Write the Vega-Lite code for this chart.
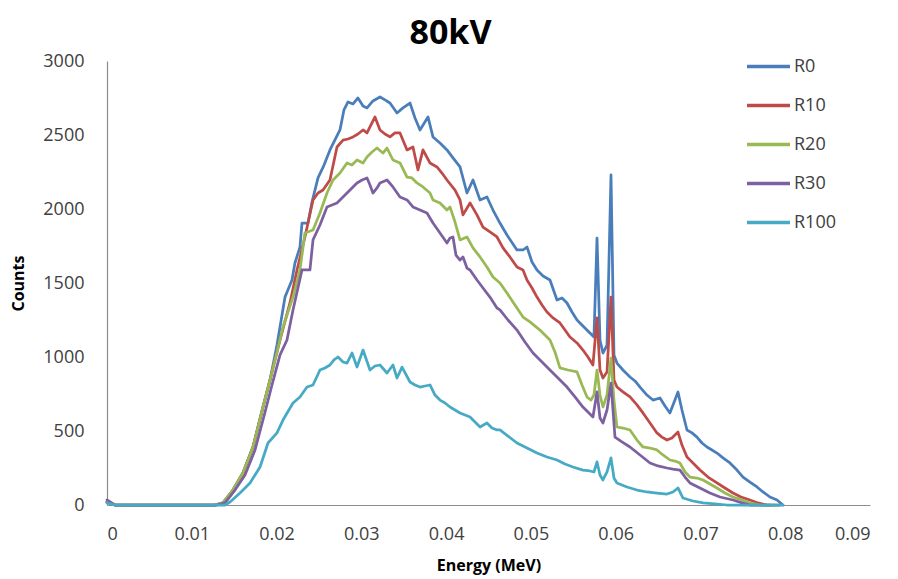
{
  "$schema": "https://vega.github.io/schema/vega-lite/v6.json",
  "width": 763,
  "height": 444,
  "autosize": {"type": "none"},
  "padding": {"left": 107, "top": 61, "right": 28, "bottom": 74},
  "background": "white",
  "title": {"text": "80kV", "font": "Open Sans", "fontSize": 34, "fontWeight": "bold", "color": "#000000", "frame": "group", "anchor": "middle", "dx": -38, "baseline": "alphabetic", "offset": 17, "dy": 52},
  "config": {
    "view": {"stroke": null},
    "axis": {"grid": false, "ticks": false, "tickSize": 0, "domainColor": "#8c8c8c", "domainWidth": 1.2, "labelFont": "Open Sans", "labelFontSize": 18, "labelColor": "#404040", "titleFont": "Open Sans", "titleFontSize": 16, "titleFontWeight": "bold", "titleColor": "#000000"},
    "legend": {"labelFont": "Open Sans", "labelFontSize": 18, "labelColor": "#404040"}
  },
  "data": {"values": [
    {"series":"R0","energy":0,"counts":20},{"series":"R0","energy":0.00094,"counts":0},{"series":"R0","energy":0.01274,"counts":0},{"series":"R0","energy":0.01368,"counts":14},{"series":"R0","energy":0.01486,"counts":101},{"series":"R0","energy":0.01604,"counts":216},{"series":"R0","energy":0.01722,"counts":392},{"series":"R0","energy":0.0184,"counts":662},{"series":"R0","energy":0.01923,"counts":845},{"series":"R0","energy":0.02005,"counts":1081},{"series":"R0","energy":0.021,"counts":1405},{"series":"R0","energy":0.02182,"counts":1520},{"series":"R0","energy":0.02217,"counts":1635},{"series":"R0","energy":0.02276,"counts":1743},{"series":"R0","energy":0.023,"counts":1905},{"series":"R0","energy":0.02371,"counts":1905},{"series":"R0","energy":0.02418,"counts":2047},{"series":"R0","energy":0.02489,"counts":2210},{"series":"R0","energy":0.0256,"counts":2297},{"series":"R0","energy":0.0263,"counts":2399},{"series":"R0","energy":0.02748,"counts":2534},{"series":"R0","energy":0.02795,"counts":2669},{"series":"R0","energy":0.02843,"counts":2723},{"series":"R0","energy":0.02902,"counts":2710},{"series":"R0","energy":0.0296,"counts":2750},{"series":"R0","energy":0.0302,"counts":2696},{"series":"R0","energy":0.03067,"counts":2683},{"series":"R0","energy":0.03137,"counts":2730},{"series":"R0","energy":0.0322,"counts":2757},{"series":"R0","energy":0.03279,"counts":2737},{"series":"R0","energy":0.03338,"counts":2716},{"series":"R0","energy":0.03421,"counts":2649},{"series":"R0","energy":0.03491,"counts":2683},{"series":"R0","energy":0.03574,"counts":2716},{"series":"R0","energy":0.03633,"counts":2615},{"series":"R0","energy":0.03692,"counts":2534},{"series":"R0","energy":0.03786,"counts":2622},{"series":"R0","energy":0.03845,"counts":2487},{"series":"R0","energy":0.03928,"counts":2446},{"series":"R0","energy":0.0401,"counts":2399},{"series":"R0","energy":0.04081,"counts":2345},{"series":"R0","energy":0.04164,"counts":2284},{"series":"R0","energy":0.04246,"counts":2108},{"series":"R0","energy":0.04317,"counts":2196},{"series":"R0","energy":0.044,"counts":2061},{"series":"R0","energy":0.04482,"counts":2081},{"series":"R0","energy":0.04553,"counts":1993},{"series":"R0","energy":0.04635,"counts":1905},{"series":"R0","energy":0.04718,"counts":1824},{"series":"R0","energy":0.04836,"counts":1723},{"series":"R0","energy":0.04907,"counts":1723},{"series":"R0","energy":0.04954,"counts":1743},{"series":"R0","energy":0.05013,"counts":1642},{"series":"R0","energy":0.05072,"counts":1588},{"series":"R0","energy":0.05143,"counts":1547},{"series":"R0","energy":0.05225,"counts":1520},{"series":"R0","energy":0.05308,"counts":1385},{"series":"R0","energy":0.05367,"counts":1399},{"series":"R0","energy":0.05426,"counts":1365},{"series":"R0","energy":0.05485,"counts":1304},{"series":"R0","energy":0.05544,"counts":1250},{"series":"R0","energy":0.05614,"counts":1210},{"series":"R0","energy":0.05697,"counts":1162},{"series":"R0","energy":0.05744,"counts":1135},{"series":"R0","energy":0.0578,"counts":1804},{"series":"R0","energy":0.05815,"counts":1115},{"series":"R0","energy":0.0585,"counts":1027},{"series":"R0","energy":0.05898,"counts":1081},{"series":"R0","energy":0.05945,"counts":2230},{"series":"R0","energy":0.0598,"counts":1014},{"series":"R0","energy":0.06015,"counts":959},{"series":"R0","energy":0.06086,"counts":912},{"series":"R0","energy":0.06169,"counts":865},{"series":"R0","energy":0.06228,"counts":838},{"series":"R0","energy":0.06287,"counts":797},{"series":"R0","energy":0.06369,"counts":743},{"series":"R0","energy":0.0644,"counts":709},{"series":"R0","energy":0.06523,"counts":723},{"series":"R0","energy":0.06582,"counts":669},{"series":"R0","energy":0.0664,"counts":622},{"series":"R0","energy":0.06699,"counts":709},{"series":"R0","energy":0.06735,"counts":764},{"series":"R0","energy":0.06782,"counts":642},{"series":"R0","energy":0.06841,"counts":507},{"series":"R0","energy":0.069,"counts":487},{"series":"R0","energy":0.06959,"counts":459},{"series":"R0","energy":0.07018,"counts":419},{"series":"R0","energy":0.07077,"counts":392},{"series":"R0","energy":0.07136,"counts":372},{"series":"R0","energy":0.07195,"counts":351},{"series":"R0","energy":0.07266,"counts":318},{"series":"R0","energy":0.07348,"counts":284},{"series":"R0","energy":0.07431,"counts":236},{"series":"R0","energy":0.07502,"counts":189},{"series":"R0","energy":0.07584,"counts":155},{"series":"R0","energy":0.07667,"counts":122},{"series":"R0","energy":0.07738,"counts":88},{"series":"R0","energy":0.0782,"counts":54},{"series":"R0","energy":0.07903,"counts":34},{"series":"R0","energy":0.07973,"counts":0},
    {"series":"R10","energy":0,"counts":20},{"series":"R10","energy":0.00094,"counts":0},{"series":"R10","energy":0.01274,"counts":0},{"series":"R10","energy":0.01368,"counts":14},{"series":"R10","energy":0.01486,"counts":101},{"series":"R10","energy":0.01604,"counts":216},{"series":"R10","energy":0.01722,"counts":392},{"series":"R10","energy":0.0184,"counts":662},{"series":"R10","energy":0.01923,"counts":845},{"series":"R10","energy":0.02041,"counts":1115},{"series":"R10","energy":0.02158,"counts":1365},{"series":"R10","energy":0.02241,"counts":1588},{"series":"R10","energy":0.02335,"counts":1811},{"series":"R10","energy":0.0243,"counts":2061},{"series":"R10","energy":0.02489,"counts":2108},{"series":"R10","energy":0.02548,"counts":2128},{"series":"R10","energy":0.0263,"counts":2196},{"series":"R10","energy":0.02713,"counts":2419},{"series":"R10","energy":0.02784,"counts":2466},{"series":"R10","energy":0.02843,"counts":2473},{"series":"R10","energy":0.02902,"counts":2487},{"series":"R10","energy":0.0296,"counts":2507},{"series":"R10","energy":0.0302,"counts":2534},{"series":"R10","energy":0.03067,"counts":2514},{"series":"R10","energy":0.03114,"counts":2568},{"series":"R10","energy":0.03161,"counts":2622},{"series":"R10","energy":0.0322,"counts":2534},{"series":"R10","energy":0.03279,"counts":2507},{"series":"R10","energy":0.03338,"counts":2487},{"series":"R10","energy":0.03397,"counts":2514},{"series":"R10","energy":0.03456,"counts":2514},{"series":"R10","energy":0.03539,"counts":2399},{"series":"R10","energy":0.03609,"counts":2419},{"series":"R10","energy":0.03668,"counts":2264},{"series":"R10","energy":0.03727,"counts":2399},{"series":"R10","energy":0.0381,"counts":2311},{"series":"R10","energy":0.03892,"counts":2284},{"series":"R10","energy":0.03951,"counts":2243},{"series":"R10","energy":0.0401,"counts":2196},{"series":"R10","energy":0.04105,"counts":2128},{"series":"R10","energy":0.04164,"counts":2061},{"series":"R10","energy":0.04199,"counts":1960},{"series":"R10","energy":0.04282,"counts":2041},{"series":"R10","energy":0.04364,"counts":1960},{"series":"R10","energy":0.04435,"counts":1878},{"series":"R10","energy":0.04517,"counts":1845},{"series":"R10","energy":0.046,"counts":1811},{"series":"R10","energy":0.04671,"counts":1737},{"series":"R10","energy":0.04753,"counts":1676},{"series":"R10","energy":0.04836,"counts":1608},{"series":"R10","energy":0.04907,"counts":1588},{"series":"R10","energy":0.04954,"counts":1520},{"series":"R10","energy":0.05013,"counts":1466},{"series":"R10","energy":0.05072,"counts":1405},{"series":"R10","energy":0.05131,"counts":1351},{"series":"R10","energy":0.0519,"counts":1304},{"series":"R10","energy":0.05261,"counts":1264},{"series":"R10","energy":0.05343,"counts":1230},{"series":"R10","energy":0.05402,"counts":1182},{"series":"R10","energy":0.05461,"counts":1135},{"series":"R10","energy":0.05544,"counts":1095},{"series":"R10","energy":0.05614,"counts":1047},{"series":"R10","energy":0.05673,"counts":1000},{"series":"R10","energy":0.05732,"counts":946},{"series":"R10","energy":0.0578,"counts":1264},{"series":"R10","energy":0.05815,"counts":912},{"series":"R10","energy":0.0585,"counts":858},{"series":"R10","energy":0.05898,"counts":899},{"series":"R10","energy":0.05945,"counts":1405},{"series":"R10","energy":0.0598,"counts":845},{"series":"R10","energy":0.06015,"counts":797},{"series":"R10","energy":0.06086,"counts":764},{"series":"R10","energy":0.06169,"counts":730},{"series":"R10","energy":0.06251,"counts":676},{"series":"R10","energy":0.06322,"counts":622},{"series":"R10","energy":0.06405,"counts":554},{"series":"R10","energy":0.06487,"counts":487},{"series":"R10","energy":0.06546,"counts":459},{"series":"R10","energy":0.06605,"counts":439},{"series":"R10","energy":0.06664,"counts":453},{"series":"R10","energy":0.06735,"counts":493},{"series":"R10","energy":0.06782,"counts":405},{"series":"R10","energy":0.06841,"counts":324},{"series":"R10","energy":0.06912,"counts":284},{"series":"R10","energy":0.06994,"counts":236},{"series":"R10","energy":0.07089,"counts":189},{"series":"R10","energy":0.07195,"counts":149},{"series":"R10","energy":0.07289,"counts":115},{"series":"R10","energy":0.07384,"counts":81},{"series":"R10","energy":0.07478,"counts":54},{"series":"R10","energy":0.07584,"counts":34},{"series":"R10","energy":0.07678,"counts":14},{"series":"R10","energy":0.07785,"counts":0},{"series":"R10","energy":0.07938,"counts":0},
    {"series":"R20","energy":0,"counts":20},{"series":"R20","energy":0.00094,"counts":0},{"series":"R20","energy":0.01274,"counts":0},{"series":"R20","energy":0.01368,"counts":14},{"series":"R20","energy":0.01486,"counts":101},{"series":"R20","energy":0.01604,"counts":216},{"series":"R20","energy":0.01722,"counts":392},{"series":"R20","energy":0.0184,"counts":662},{"series":"R20","energy":0.01923,"counts":845},{"series":"R20","energy":0.02005,"counts":1034},{"series":"R20","energy":0.02076,"counts":1203},{"series":"R20","energy":0.02194,"counts":1405},{"series":"R20","energy":0.02276,"counts":1588},{"series":"R20","energy":0.02335,"counts":1838},{"series":"R20","energy":0.0243,"counts":1858},{"series":"R20","energy":0.02512,"counts":1973},{"series":"R20","energy":0.02595,"counts":2108},{"series":"R20","energy":0.02666,"counts":2196},{"series":"R20","energy":0.02748,"counts":2243},{"series":"R20","energy":0.02831,"counts":2311},{"series":"R20","energy":0.0289,"counts":2297},{"series":"R20","energy":0.02949,"counts":2331},{"series":"R20","energy":0.0302,"counts":2311},{"series":"R20","energy":0.03067,"counts":2351},{"series":"R20","energy":0.03126,"counts":2385},{"series":"R20","energy":0.03185,"counts":2412},{"series":"R20","energy":0.03255,"counts":2378},{"series":"R20","energy":0.03303,"counts":2412},{"series":"R20","energy":0.03373,"counts":2331},{"series":"R20","energy":0.03456,"counts":2311},{"series":"R20","energy":0.03539,"counts":2216},{"series":"R20","energy":0.03597,"counts":2210},{"series":"R20","energy":0.03656,"counts":2176},{"series":"R20","energy":0.03727,"counts":2149},{"series":"R20","energy":0.0381,"counts":2108},{"series":"R20","energy":0.03845,"counts":2061},{"series":"R20","energy":0.03928,"counts":2041},{"series":"R20","energy":0.0401,"counts":1993},{"series":"R20","energy":0.04046,"counts":2014},{"series":"R20","energy":0.04105,"counts":1912},{"series":"R20","energy":0.04164,"counts":1791},{"series":"R20","energy":0.04246,"counts":1811},{"series":"R20","energy":0.04317,"counts":1737},{"series":"R20","energy":0.044,"counts":1676},{"series":"R20","energy":0.04482,"counts":1608},{"series":"R20","energy":0.04553,"counts":1541},{"series":"R20","energy":0.04635,"counts":1500},{"series":"R20","energy":0.04718,"counts":1432},{"series":"R20","energy":0.04812,"counts":1351},{"series":"R20","energy":0.04907,"counts":1270},{"series":"R20","energy":0.04989,"counts":1237},{"series":"R20","energy":0.05107,"counts":1182},{"series":"R20","energy":0.05166,"counts":1149},{"series":"R20","energy":0.05225,"counts":1115},{"series":"R20","energy":0.05284,"counts":1034},{"series":"R20","energy":0.05343,"counts":926},{"series":"R20","energy":0.05437,"counts":912},{"series":"R20","energy":0.05544,"counts":899},{"series":"R20","energy":0.05603,"counts":811},{"series":"R20","energy":0.05662,"counts":730},{"series":"R20","energy":0.05709,"counts":709},{"series":"R20","energy":0.05744,"counts":743},{"series":"R20","energy":0.0578,"counts":912},{"series":"R20","energy":0.05815,"counts":743},{"series":"R20","energy":0.0585,"counts":662},{"series":"R20","energy":0.05898,"counts":743},{"series":"R20","energy":0.05945,"counts":993},{"series":"R20","energy":0.0598,"counts":709},{"series":"R20","energy":0.06015,"counts":527},{"series":"R20","energy":0.06086,"counts":520},{"series":"R20","energy":0.06169,"counts":507},{"series":"R20","energy":0.06251,"counts":439},{"series":"R20","energy":0.06322,"counts":392},{"series":"R20","energy":0.06405,"counts":385},{"series":"R20","energy":0.06487,"counts":372},{"series":"R20","energy":0.06558,"counts":338},{"series":"R20","energy":0.0664,"counts":304},{"series":"R20","energy":0.06699,"counts":297},{"series":"R20","energy":0.06758,"counts":284},{"series":"R20","energy":0.06818,"counts":223},{"series":"R20","energy":0.06876,"counts":189},{"series":"R20","energy":0.06959,"counts":182},{"series":"R20","energy":0.0703,"counts":169},{"series":"R20","energy":0.07112,"counts":142},{"series":"R20","energy":0.07195,"counts":115},{"series":"R20","energy":0.07289,"counts":81},{"series":"R20","energy":0.07384,"counts":54},{"series":"R20","energy":0.0749,"counts":34},{"series":"R20","energy":0.07584,"counts":14},{"series":"R20","energy":0.07702,"counts":0},{"series":"R20","energy":0.07879,"counts":0},
    {"series":"R30","energy":0,"counts":34},{"series":"R30","energy":0.00094,"counts":0},{"series":"R30","energy":0.01297,"counts":0},{"series":"R30","energy":0.01392,"counts":14},{"series":"R30","energy":0.0151,"counts":101},{"series":"R30","energy":0.01628,"counts":203},{"series":"R30","energy":0.01746,"counts":372},{"series":"R30","energy":0.01864,"counts":628},{"series":"R30","energy":0.01946,"counts":811},{"series":"R30","energy":0.02041,"counts":1014},{"series":"R30","energy":0.02123,"counts":1115},{"series":"R30","energy":0.02194,"counts":1318},{"series":"R30","energy":0.023,"counts":1588},{"series":"R30","energy":0.02394,"counts":1588},{"series":"R30","energy":0.0243,"counts":1791},{"series":"R30","energy":0.02512,"counts":1892},{"series":"R30","energy":0.02595,"counts":2014},{"series":"R30","energy":0.02654,"counts":2027},{"series":"R30","energy":0.02713,"counts":2041},{"series":"R30","energy":0.02772,"counts":2074},{"series":"R30","energy":0.02831,"counts":2108},{"series":"R30","energy":0.0289,"counts":2142},{"series":"R30","energy":0.02949,"counts":2176},{"series":"R30","energy":0.03008,"counts":2196},{"series":"R30","energy":0.03067,"counts":2210},{"series":"R30","energy":0.03102,"counts":2162},{"series":"R30","energy":0.03137,"counts":2108},{"series":"R30","energy":0.03185,"counts":2142},{"series":"R30","energy":0.0322,"counts":2176},{"series":"R30","energy":0.03303,"counts":2196},{"series":"R30","energy":0.03373,"counts":2149},{"series":"R30","energy":0.03456,"counts":2081},{"series":"R30","energy":0.03539,"counts":2061},{"series":"R30","energy":0.03609,"counts":2014},{"series":"R30","energy":0.03692,"counts":1993},{"series":"R30","energy":0.03774,"counts":1973},{"series":"R30","energy":0.03845,"counts":1905},{"series":"R30","energy":0.03928,"counts":1838},{"series":"R30","energy":0.0401,"counts":1770},{"series":"R30","energy":0.04046,"counts":1804},{"series":"R30","energy":0.04081,"counts":1811},{"series":"R30","energy":0.04116,"counts":1689},{"series":"R30","energy":0.04164,"counts":1655},{"series":"R30","energy":0.04199,"counts":1676},{"series":"R30","energy":0.04246,"counts":1601},{"series":"R30","energy":0.04282,"counts":1588},{"series":"R30","energy":0.04364,"counts":1520},{"series":"R30","energy":0.04435,"counts":1466},{"series":"R30","energy":0.04517,"counts":1405},{"series":"R30","energy":0.046,"counts":1331},{"series":"R30","energy":0.04635,"counts":1318},{"series":"R30","energy":0.0473,"counts":1250},{"series":"R30","energy":0.04836,"counts":1182},{"series":"R30","energy":0.0493,"counts":1101},{"series":"R30","energy":0.05025,"counts":1027},{"series":"R30","energy":0.05131,"counts":966},{"series":"R30","energy":0.05225,"counts":912},{"series":"R30","energy":0.0532,"counts":858},{"series":"R30","energy":0.05426,"counts":797},{"series":"R30","energy":0.0552,"counts":730},{"series":"R30","energy":0.05614,"counts":662},{"series":"R30","energy":0.05673,"counts":628},{"series":"R30","energy":0.05732,"counts":595},{"series":"R30","energy":0.0578,"counts":764},{"series":"R30","energy":0.05815,"counts":588},{"series":"R30","energy":0.0585,"counts":554},{"series":"R30","energy":0.05898,"counts":642},{"series":"R30","energy":0.05945,"counts":824},{"series":"R30","energy":0.05992,"counts":459},{"series":"R30","energy":0.06074,"counts":426},{"series":"R30","energy":0.06169,"counts":392},{"series":"R30","energy":0.06287,"counts":338},{"series":"R30","energy":0.06405,"counts":284},{"series":"R30","energy":0.06499,"counts":264},{"series":"R30","energy":0.06605,"counts":250},{"series":"R30","energy":0.06676,"counts":243},{"series":"R30","energy":0.06758,"counts":236},{"series":"R30","energy":0.06818,"counts":189},{"series":"R30","energy":0.06876,"counts":149},{"series":"R30","energy":0.06994,"counts":115},{"series":"R30","energy":0.07112,"counts":81},{"series":"R30","energy":0.0723,"counts":54},{"series":"R30","energy":0.07384,"counts":34},{"series":"R30","energy":0.0749,"counts":14},{"series":"R30","energy":0.07584,"counts":0},{"series":"R30","energy":0.0782,"counts":0},
    {"series":"R100","energy":0,"counts":14},{"series":"R100","energy":0.00094,"counts":0},{"series":"R100","energy":0.01392,"counts":0},{"series":"R100","energy":0.01451,"counts":20},{"series":"R100","energy":0.01569,"counts":81},{"series":"R100","energy":0.01687,"counts":149},{"series":"R100","energy":0.01805,"counts":257},{"series":"R100","energy":0.01899,"counts":419},{"series":"R100","energy":0.02005,"counts":487},{"series":"R100","energy":0.02076,"counts":574},{"series":"R100","energy":0.02194,"counts":689},{"series":"R100","energy":0.02276,"counts":730},{"series":"R100","energy":0.02359,"counts":797},{"series":"R100","energy":0.0243,"counts":811},{"series":"R100","energy":0.02512,"counts":912},{"series":"R100","energy":0.02571,"counts":926},{"series":"R100","energy":0.0263,"counts":946},{"series":"R100","energy":0.02677,"counts":980},{"series":"R100","energy":0.02725,"counts":1000},{"series":"R100","energy":0.02784,"counts":966},{"series":"R100","energy":0.02831,"counts":959},{"series":"R100","energy":0.0289,"counts":1027},{"series":"R100","energy":0.02949,"counts":932},{"series":"R100","energy":0.0302,"counts":1047},{"series":"R100","energy":0.03102,"counts":912},{"series":"R100","energy":0.03161,"counts":939},{"series":"R100","energy":0.0322,"counts":946},{"series":"R100","energy":0.03303,"counts":892},{"series":"R100","energy":0.03373,"counts":946},{"series":"R100","energy":0.03421,"counts":858},{"series":"R100","energy":0.0348,"counts":932},{"series":"R100","energy":0.03574,"counts":831},{"series":"R100","energy":0.03633,"counts":811},{"series":"R100","energy":0.03692,"counts":797},{"series":"R100","energy":0.03751,"counts":804},{"series":"R100","energy":0.0381,"counts":811},{"series":"R100","energy":0.03869,"counts":743},{"series":"R100","energy":0.03928,"counts":709},{"series":"R100","energy":0.03987,"counts":689},{"series":"R100","energy":0.04046,"counts":662},{"series":"R100","energy":0.04105,"counts":642},{"series":"R100","energy":0.04164,"counts":622},{"series":"R100","energy":0.04223,"counts":608},{"series":"R100","energy":0.04282,"counts":595},{"series":"R100","energy":0.04341,"counts":561},{"series":"R100","energy":0.044,"counts":527},{"series":"R100","energy":0.04482,"counts":554},{"series":"R100","energy":0.04541,"counts":520},{"series":"R100","energy":0.046,"counts":507},{"series":"R100","energy":0.04635,"counts":507},{"series":"R100","energy":0.0473,"counts":466},{"series":"R100","energy":0.04836,"counts":419},{"series":"R100","energy":0.04954,"counts":385},{"series":"R100","energy":0.05072,"counts":351},{"series":"R100","energy":0.0519,"counts":324},{"series":"R100","energy":0.05308,"counts":304},{"series":"R100","energy":0.05402,"counts":277},{"series":"R100","energy":0.05496,"counts":257},{"series":"R100","energy":0.05614,"counts":236},{"series":"R100","energy":0.05697,"counts":230},{"series":"R100","energy":0.05744,"counts":223},{"series":"R100","energy":0.0578,"counts":291},{"series":"R100","energy":0.05815,"counts":203},{"series":"R100","energy":0.0585,"counts":169},{"series":"R100","energy":0.05898,"counts":223},{"series":"R100","energy":0.05945,"counts":318},{"series":"R100","energy":0.0598,"counts":182},{"series":"R100","energy":0.06015,"counts":149},{"series":"R100","energy":0.06133,"counts":122},{"series":"R100","energy":0.06251,"counts":101},{"series":"R100","energy":0.06369,"counts":88},{"series":"R100","energy":0.06487,"counts":81},{"series":"R100","energy":0.06605,"counts":74},{"series":"R100","energy":0.06676,"counts":88},{"series":"R100","energy":0.06735,"counts":115},{"series":"R100","energy":0.06794,"counts":47},{"series":"R100","energy":0.06912,"counts":27},{"series":"R100","energy":0.0703,"counts":14},{"series":"R100","energy":0.07171,"counts":7},{"series":"R100","energy":0.07313,"counts":0},{"series":"R100","energy":0.07973,"counts":0}
  ]},
  "mark": {"type": "line", "strokeWidth": 2.75, "strokeJoin": "round", "strokeCap": "round"},
  "encoding": {
    "x": {"field": "energy", "type": "quantitative", "scale": {"domain": [0, 0.09], "nice": false, "zero": false}, "axis": {"values": [0, 0.01, 0.02, 0.03, 0.04, 0.05, 0.06, 0.07, 0.08, 0.09], "format": ".2~f", "labelPadding": 20, "title": "Energy (MeV)", "titleY": 60, "titleBaseline": "middle"}},
    "y": {"field": "counts", "type": "quantitative", "scale": {"domain": [0, 3000], "nice": false}, "axis": {"values": [0, 500, 1000, 1500, 2000, 2500, 3000], "format": "d", "labelPadding": 23, "title": "Counts", "titleX": -89, "titleY": 222, "titleAngle": -90, "titleAlign": "center", "titleBaseline": "middle"}},
    "color": {"field": "series", "type": "nominal", "sort": ["R0", "R10", "R20", "R30", "R100"], "scale": {"domain": ["R0", "R10", "R20", "R30", "R100"], "range": ["#4A7EBB", "#BE4B48", "#98B954", "#7D60A0", "#46AAC5"]}, "legend": {"title": null, "orient": "none", "legendX": 638, "legendY": -18, "symbolType": "stroke", "symbolSize": 1849, "symbolStrokeWidth": 3.5, "rowPadding": 6, "labelOffset": 2, "padding": 0}},
    "order": {"field": "energy", "type": "quantitative"}
  }
}
